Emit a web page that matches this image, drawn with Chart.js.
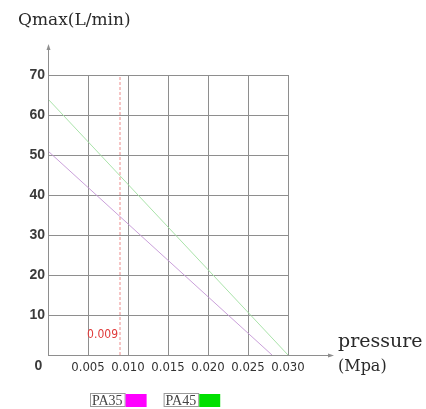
<!DOCTYPE html>
<html>
<head>
<meta charset="utf-8">
<script src="https://cdn.jsdelivr.net/npm/chart.js@4/dist/chart.umd.min.js"></script>
<style>
  html, body { margin: 0; padding: 0; background: #fff; }
</style>
</head>
<body>
<canvas id="flowChart" width="426" height="409"></canvas>
<script>
// values: pressure in MPa, max flow in L/min
var pa35Pressure = [0, 0.028];
var pa35Flow = [51, 0];
var pa45Pressure = [0, 0.030];
var pa45Flow = [64, 0];
var markPressure = 0.009;
var markFlow = [0, 70];
var xTickValues = [0, 0.005, 0.010, 0.015, 0.020, 0.025, 0.030];
var yTickValues = [0, 10, 20, 30, 40, 50, 60, 70];

var gridColor = '#8e8e8e';
var narrowFont = '"Liberation Sans Narrow", "DejaVu Sans Condensed", "Liberation Sans", sans-serif';
var serifFont = '"DejaVu Serif", "Liberation Serif", serif';

function toPoints(xs, ys) {
  return xs.map(function (x, i) { return { x: x, y: ys[i] }; });
}

// axes with arrows, axis titles, origin label, marker text and the legend
var decor = {
  id: 'decor',
  afterDraw: function (chart) {
    var c = chart.ctx;
    var xs = chart.scales.x, ys = chart.scales.y;
    var area = chart.chartArea;
    var x0 = Math.round(xs.getPixelForValue(0)) + 0.5;
    var y0 = Math.round(ys.getPixelForValue(0)) + 0.5;
    var yTip = area.top - 31;
    var xTip = area.right + 46;

    c.save();
    c.strokeStyle = gridColor;
    c.fillStyle = gridColor;
    c.lineWidth = 1;
    c.beginPath();
    c.moveTo(x0, y0); c.lineTo(x0, yTip + 3);
    c.moveTo(x0, y0); c.lineTo(xTip - 3, y0);
    c.stroke();
    c.beginPath();
    c.moveTo(x0, yTip); c.lineTo(x0 - 2, yTip + 6); c.lineTo(x0 + 2, yTip + 6);
    c.closePath(); c.fill();
    c.beginPath();
    c.moveTo(xTip, y0); c.lineTo(xTip - 6, y0 - 2); c.lineTo(xTip - 6, y0 + 2);
    c.closePath(); c.fill();

    c.fillStyle = '#2a2a2a';
    c.textAlign = 'left';
    c.textBaseline = 'middle';
    c.font = '17px ' + serifFont;
    c.fillText('Qmax(L/min)', 18, 21);
    c.font = '19px ' + serifFont;
    c.fillText('pressure', 338, 342);
    c.font = '16px ' + serifFont;
    c.fillText('(Mpa)', 338, 367);

    c.font = 'bold 14px "Liberation Sans", Arial, sans-serif';
    c.fillStyle = '#3a3a3a';
    c.textAlign = 'center';
    c.fillText('0', x0 - 10, y0 + 11);

    c.font = '12px ' + narrowFont;
    c.fillStyle = '#e03a3a';
    c.textAlign = 'right';
    c.fillText('0.009', xs.getPixelForValue(markPressure) - 2, y0 - 21);

    // legend: boxed name followed by a colour swatch
    var lx = 90, ly = 393, lh = 14;
    c.font = '14px "Liberation Serif", serif';
    c.textAlign = 'left';
    chart.data.datasets.forEach(function (ds) {
      if (!ds.label) return;
      var tw = c.measureText(ds.label).width + 4;
      c.fillStyle = '#fff';
      c.fillRect(lx, ly, tw, lh);
      c.strokeStyle = '#9a9a9a';
      c.strokeRect(lx + 0.5, ly + 0.5, tw, lh - 1);
      c.fillStyle = '#444';
      c.fillText(ds.label, lx + 2, ly + lh / 2 + 1);
      c.fillStyle = ds.backgroundColor;
      c.fillRect(lx + tw + 1, ly + 1, 21, lh - 1);
      lx += tw + 1 + 21 + 17;
    });
    c.restore();
  }
};

var ctx = document.getElementById('flowChart').getContext('2d');

var flowChart = new Chart(ctx, {
  type: 'scatter',
  data: {
    datasets: [{
      label: 'PA35',
      data: toPoints(pa35Pressure, pa35Flow),
      showLine: true,
      borderColor: 'rgba(196, 150, 214, 0.9)',
      backgroundColor: '#ff00ff',
      borderWidth: 1,
      pointRadius: 0
    }, {
      label: 'PA45',
      data: toPoints(pa45Pressure, pa45Flow),
      showLine: true,
      borderColor: 'rgba(160, 224, 160, 0.9)',
      backgroundColor: '#00e000',
      borderWidth: 1,
      pointRadius: 0
    }, {
      label: '',
      data: toPoints([markPressure, markPressure], markFlow),
      showLine: true,
      borderColor: 'rgba(235, 120, 120, 0.85)',
      borderDash: [3, 2],
      borderWidth: 1,
      pointRadius: 0
    }]
  },
  options: {
    responsive: false,
    animation: false,
    layout: {
      padding: { left: 0, right: 138, top: 75, bottom: 24 }
    },
    plugins: {
      legend: { display: false },
      tooltip: { enabled: false }
    },
    scales: {
      x: {
        type: 'linear',
        min: 0,
        max: 0.030,
        afterBuildTicks: function (scale) {
          scale.ticks = xTickValues.map(function (v) { return { value: v }; });
        },
        afterFit: function (scale) { scale.height = 30; },
        grid: { color: gridColor, drawTicks: false },
        border: { display: false },
        ticks: {
          padding: 5,
          color: '#333',
          font: { family: narrowFont, size: 13 },
          maxRotation: 0,
          autoSkip: false,
          callback: function (v) { return v === 0 ? '' : v.toFixed(3); }
        }
      },
      y: {
        min: 0,
        max: 70,
        afterBuildTicks: function (scale) {
          scale.ticks = yTickValues.map(function (v) { return { value: v }; });
        },
        afterFit: function (scale) { scale.width = 48; },
        grid: { color: gridColor, drawTicks: false },
        border: { display: false },
        ticks: {
          padding: 3,
          color: '#3a3a3a',
          font: { family: '"Liberation Sans", Arial, sans-serif', size: 14, weight: 'bold' },
          callback: function (v) { return v === 0 ? '' : v; }
        }
      }
    }
  },
  plugins: [decor]
});
</script>
</body>
</html>
